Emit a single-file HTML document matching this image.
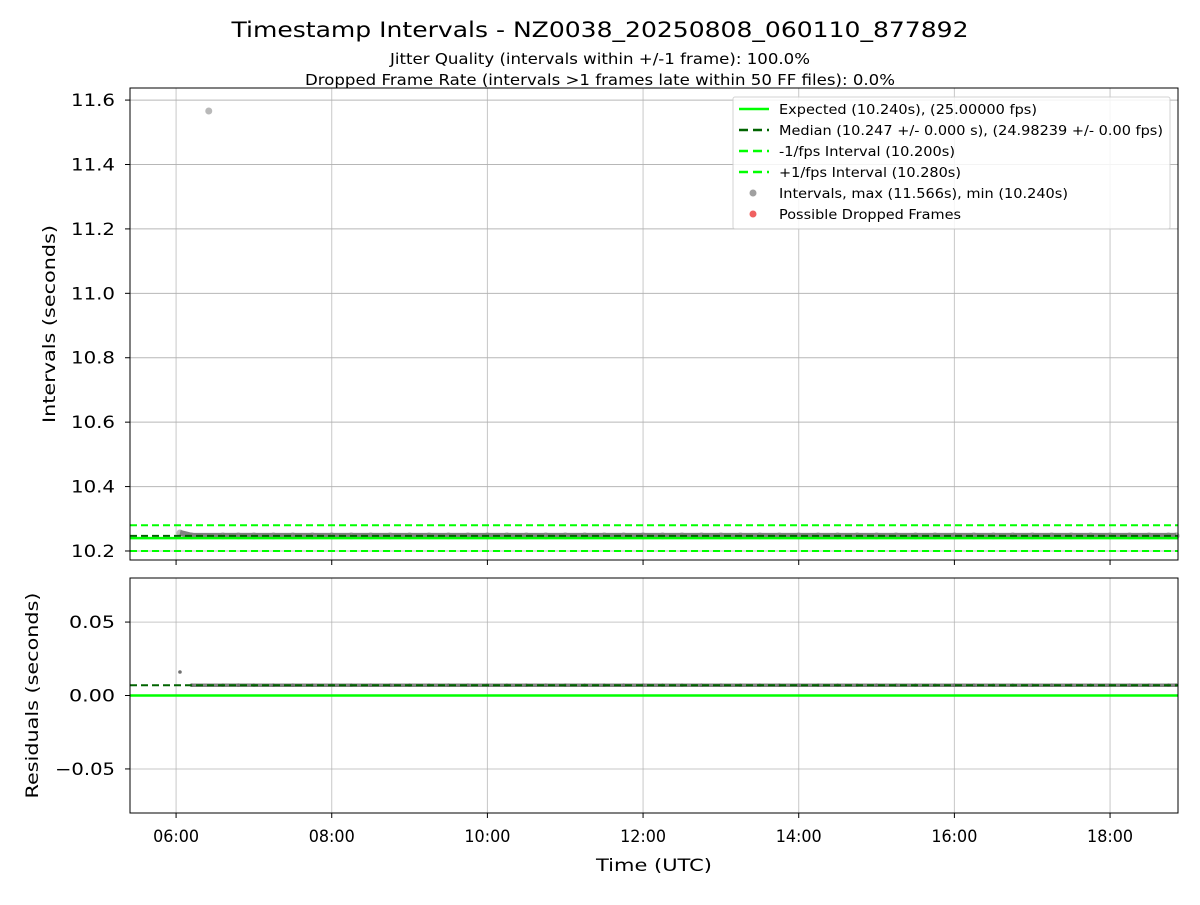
<!DOCTYPE html>
<html><head><meta charset="utf-8"><style>
body{margin:0;background:#fff;}
svg{font-family:"DejaVu Sans","Liberation Sans",sans-serif;}
</style></head><body>
<svg id="c" width="1200" height="900" xmlns="http://www.w3.org/2000/svg">
<text x="600" y="37" text-anchor="middle" font-size="21" textLength="737" lengthAdjust="spacingAndGlyphs">Timestamp Intervals - NZ0038_20250808_060110_877892</text>
<text x="600" y="64" text-anchor="middle" font-size="15" textLength="420" lengthAdjust="spacingAndGlyphs">Jitter Quality (intervals within +/-1 frame): 100.0%</text>
<text x="600" y="85" text-anchor="middle" font-size="15" textLength="590" lengthAdjust="spacingAndGlyphs">Dropped Frame Rate (intervals &gt;1 frames late within 50 FF files): 0.0%</text>
<g id="g"></g>
</svg>
<script>
const times=[6.05,6.2,6.42,6.6,6.8,7.0,7.25,7.5,7.75,8.0,8.25,8.5,8.75,9.0,9.25,9.5,9.75,10.0,10.25,10.5,10.75,11.0,11.25,11.5,11.75,12.0,12.25,12.5,12.75,13.0,13.25,13.5,13.75,14.0,14.25,14.5,14.75,15.0,15.25,15.5,15.75,16.0,16.25,16.5,16.75,17.0,17.25,17.5,17.75,18.0,18.25,18.5,18.75,18.85];
const intervals=[10.256,10.247,11.566,10.247,10.247,10.247,10.247,10.247,10.247,10.247,10.247,10.247,10.247,10.247,10.247,10.247,10.247,10.247,10.247,10.247,10.247,10.247,10.247,10.247,10.247,10.247,10.247,10.247,10.247,10.247,10.247,10.247,10.247,10.247,10.247,10.247,10.247,10.247,10.247,10.247,10.247,10.247,10.247,10.247,10.247,10.247,10.247,10.247,10.247,10.247,10.247,10.247,10.247,10.247];
const xTicks=[6,8,10,12,14,16,18];
const xTickLabels=["06:00","08:00","10:00","12:00","14:00","16:00","18:00"];
const yTicksTop=[10.2,10.4,10.6,10.8,11.0,11.2,11.4,11.6];
const yTicksBot=[-0.05,0.0,0.05];
const yTickBotLabels=["\u22120.05","0.00","0.05"];
const expected=10.24, median=10.247, lower=10.2, upper=10.28;

const L=130,R=1178,T1=88,B1=560,T2=578,B2=813;
const xmin=5.408,xmax=18.873;
const X=t=>L+(t-xmin)/(xmax-xmin)*(R-L);
const Y1=v=>B1-(v-10.172)/(11.6375-10.172)*(B1-T1);
const Y2=v=>B2-(v+0.08)/0.16*(B2-T2);
const g=document.getElementById('g');
const NS="http://www.w3.org/2000/svg";
function mk(tag,attrs,name){const e=document.createElementNS(NS,tag);for(const k in attrs)e.setAttribute(k,attrs[k]);


g.appendChild(e);return e;}
function txt(x,y,s,anchor,size,name,rot,len){const e=mk('text',{x:x,y:y,'text-anchor':anchor,'font-size':size},name);if(len){e.setAttribute('textLength',len);e.setAttribute('lengthAdjust','spacingAndGlyphs');}if(rot)e.setAttribute('transform',`rotate(-90 ${x} ${y})`);e.textContent=s;return e;}
xTicks.forEach((t,i)=>{
 mk('line',{x1:X(t),x2:X(t),y1:T1,y2:B1,stroke:'#b0b0b0','stroke-width':1,opacity:0.7},'x-grid-top');
 mk('line',{x1:X(t),x2:X(t),y1:T2,y2:B2,stroke:'#b0b0b0','stroke-width':1,opacity:0.7},'x-grid-bottom');
 mk('line',{x1:X(t),x2:X(t),y1:B1,y2:B1+5,stroke:'#000'},'x-tick-top');
 mk('line',{x1:X(t),x2:X(t),y1:B2,y2:B2+5,stroke:'#000'},'x-tick');
 txt(X(t),B2+29,xTickLabels[i],'middle',17,'x-tick-label',false,46);
});
yTicksTop.forEach(v=>{
 mk('line',{x1:L,x2:R,y1:Y1(v),y2:Y1(v),stroke:'#b0b0b0',opacity:0.9},'y-grid-top');
 mk('line',{x1:L-5,x2:L,y1:Y1(v),y2:Y1(v),stroke:'#000'},'y-tick-top');
 txt(L-15,Y1(v)+6,v.toFixed(1),'end',17,'y-tick-label-top',false,44);
});
yTicksBot.forEach((v,i)=>{
 mk('line',{x1:L,x2:R,y1:Y2(v),y2:Y2(v),stroke:'#b0b0b0',opacity:0.7},'y-grid-bottom');
 mk('line',{x1:L-5,x2:L,y1:Y2(v),y2:Y2(v),stroke:'#000'},'y-tick-bottom');
 txt(L-15,Y2(v)+6,yTickBotLabels[i],'end',17,'y-tick-label-bottom',false,i===0?60:46);
});
mk('line',{x1:L,x2:R,y1:Y1(upper),y2:Y1(upper),stroke:'#00ff00','stroke-width':2,'stroke-dasharray':'7,4'},'upper-fps-line');
mk('line',{x1:L,x2:R,y1:Y1(lower),y2:Y1(lower),stroke:'#00ff00','stroke-width':2,'stroke-dasharray':'7,4'},'lower-fps-line');
const band=times.map((t,i)=>[t,intervals[i]]).filter(p=>p[1]<11);
for(let i=0;i<band.length-1;i++) mk('line',{x1:X(band[i][0]),x2:X(band[i+1][0]),y1:Y1(band[i][1]),y2:Y1(band[i+1][1]),stroke:'#808080','stroke-width':6},'interval-band');
times.forEach((t,i)=>mk('circle',{cx:X(t),cy:Y1(intervals[i]),r:3.5,fill:'#808080',opacity:0.55},'interval-point'));
mk('line',{x1:L,x2:R,y1:Y1(expected),y2:Y1(expected),stroke:'#00ff00','stroke-width':2.5},'expected-line');
mk('line',{x1:L,x2:R,y1:Y1(median),y2:Y1(median),stroke:'#006400','stroke-width':2,'stroke-dasharray':'7,4'},'median-line');
mk('line',{x1:L,x2:R,y1:Y2(0),y2:Y2(0),stroke:'#00ff00','stroke-width':2.5},'residual-zero-line');
for(let i=1;i<band.length-1;i++){
 mk('line',{x1:X(band[i][0]),x2:X(band[i+1][0]),y1:Y2(band[i][1]-expected),y2:Y2(band[i+1][1]-expected),stroke:'#808080','stroke-width':3.5},'residual-band');
}
times.forEach((t,i)=>{const r=intervals[i]-expected;if(r<0.08)mk('circle',{cx:X(t),cy:Y2(r),r:1.8,fill:'#707070'},'residual-point');});
mk('line',{x1:L,x2:R,y1:Y2(median-expected),y2:Y2(median-expected),stroke:'#006400','stroke-width':2,'stroke-dasharray':'7,4'},'residual-median-line');
mk('rect',{x:L,y:T1,width:R-L,height:B1-T1,fill:'none',stroke:'#000'},'top-axes-frame');
mk('rect',{x:L,y:T2,width:R-L,height:B2-T2,fill:'none',stroke:'#000'},'bottom-axes-frame');
txt(55,(T1+B1)/2,'Intervals (seconds)','middle',17,'y-axis-title-top',true,198);
txt(38,(T2+B2)/2,'Residuals (seconds)','middle',17,'y-axis-title-bottom',true,206);
txt((L+R)/2,B2+58,'Time (UTC)','middle',17,'x-axis-title',false,116);
mk('rect',{x:733,y:97,width:437,height:132,fill:'#fff',opacity:0.85,stroke:'#ccc',rx:2},'legend-box');
const legItems=[["Expected (10.240s), (25.00000 fps)","solid","#00ff00",258],["Median (10.247 +/- 0.000 s), (24.98239 +/- 0.00 fps)","dash","#006400",384],["-1/fps Interval (10.200s)","dash","#00ff00",176],["+1/fps Interval (10.280s)","dash","#00ff00",182],["Intervals, max (11.566s), min (10.240s)","dot","#a0a0a0",289],["Possible Dropped Frames","dot","#f06060",182]];
legItems.forEach((it,i)=>{const y=109+i*21;
 if(it[1]==='dot')mk('circle',{cx:753,cy:y,r:3.5,fill:it[2]},'legend-marker');
 else mk('line',{x1:739,x2:769,y1:y,y2:y,stroke:it[2],'stroke-width':2.5,'stroke-dasharray':it[1]==='dash'?'9,5':'none'},'legend-line');
 txt(779,y+5,it[0],'start',13,'legend-entry',false,it[3]);
});
</script>
</body></html>
